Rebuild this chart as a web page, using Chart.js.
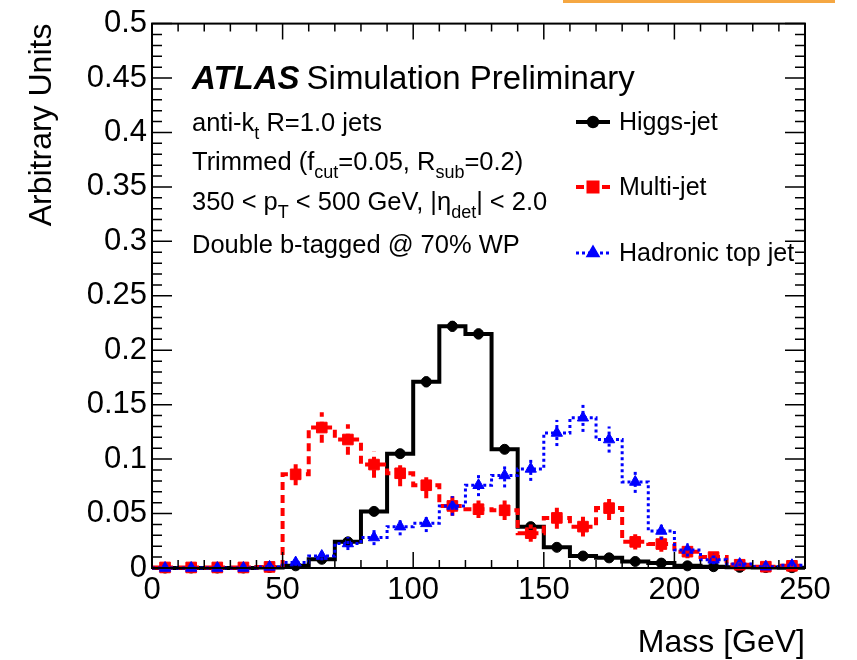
<!DOCTYPE html>
<html>
<head>
<meta charset="utf-8">
<script src="https://cdn.jsdelivr.net/npm/chart.js@4.4.1/dist/chart.umd.min.js"></script>
<style>
  html, body { margin: 0; padding: 0; background: #fff; }
  #wrap { width: 857px; height: 660px; position: relative; }
</style>
</head>
<body>
<div id="wrap"><canvas id="massChart" width="857" height="660"></canvas></div>
<script>
// bin centres (10 GeV bins)
const massBins = [5, 15, 25, 35, 45, 55, 65, 75, 85, 95, 105, 115, 125, 135, 145, 155, 165, 175, 185, 195, 205, 215, 225, 235, 245];
const binWidth = 10;

const higgsJet = [0, 0, 0, 0, 0.0005, 0.002, 0.008, 0.024, 0.052, 0.105, 0.171, 0.222, 0.215, 0.109, 0.038, 0.019, 0.011, 0.0093, 0.006, 0.0045, 0.002, 0.0012, 0.0006, 0.0004, 0.0003];
const higgsErr = [0, 0, 0, 0, 0, 0.001, 0.002, 0.003, 0.003, 0.004, 0.005, 0.005, 0.005, 0.004, 0.003, 0.002, 0.002, 0.002, 0.001, 0.001, 0.001, 0, 0, 0, 0];

const multiJet = [0.0005, 0.0005, 0.0005, 0.0005, 0.001, 0.086, 0.129, 0.118, 0.095, 0.087, 0.076, 0.057, 0.054, 0.053, 0.032, 0.046, 0.038, 0.055, 0.024, 0.022, 0.015, 0.010, 0.003, 0.0012, 0.002];
const multiErr = [0, 0, 0, 0, 0.001, 0.010, 0.014, 0.014, 0.012, 0.012, 0.012, 0.009, 0.008, 0.009, 0.008, 0.010, 0.009, 0.011, 0.007, 0.007, 0.006, 0.004, 0.002, 0.001, 0.001];

const topJet = [0, 0, 0, 0, 0.001, 0.005, 0.011, 0.0225, 0.028, 0.038, 0.041, 0.057, 0.076, 0.085, 0.091, 0.124, 0.138, 0.118, 0.079, 0.034, 0.0165, 0.0075, 0.0036, 0.0012, 0.0025];
const topErr = [0, 0, 0, 0, 0.001, 0.003, 0.004, 0.006, 0.007, 0.008, 0.008, 0.009, 0.010, 0.011, 0.011, 0.012, 0.013, 0.012, 0.010, 0.008, 0.006, 0.004, 0.002, 0.001, 0.001];

const xTicks = [0, 50, 100, 150, 200, 250];
const yTicks = [0, 0.05, 0.1, 0.15, 0.2, 0.25, 0.3, 0.35, 0.4, 0.45, 0.5];

const FONT = '"Liberation Sans", Arial, Helvetica, sans-serif';

// series styling
const series = [
    { label: 'Higgs-jet', values: higgsJet, errors: higgsErr, color: '#000000', width: 4, dash: [], point: 'circle', radius: 5, order: 3 },
    { label: 'Multi-jet', values: multiJet, errors: multiErr, color: '#ff0000', width: 4, dash: [8, 5], point: 'rect', radius: 7.5, order: 2 },
    { label: 'Hadronic top jet', values: topJet, errors: topErr, color: '#0000ff', width: 3, dash: [3, 3], point: 'triangle', radius: 6.5, order: 1 }
];

// build step outline (left edges + closing right edge) and marker points
function stepPoints(values) {
    const pts = massBins.map((c, i) => ({ x: c - binWidth / 2, y: values[i] }));
    pts.push({ x: massBins[massBins.length - 1] + binWidth / 2, y: values[values.length - 1] });
    return pts;
}

const datasets = [];
series.forEach(s => {
    datasets.push({
        label: s.label + ' hist',
        data: stepPoints(s.values),
        showLine: true,
        borderColor: s.color,
        borderWidth: s.width,
        borderDash: s.dash,
        stepped: 'before',
        pointRadius: 0,
        fill: false,
        order: s.order,
        clip: 4
    });
    datasets.push({
        label: s.label,
        data: massBins.map((c, i) => ({ x: c, y: s.values[i] })),
        showLine: false,
        pointStyle: s.point,
        pointRadius: s.radius,
        backgroundColor: s.color,
        borderColor: s.color,
        borderWidth: 1,
        order: s.order,
        clip: false,
        errors: s.errors,
        errDash: s.dash,
        errWidth: s.width
    });
});

// text with subscripts: parts = [[text, isSub], ...]
function drawRich(ctx, x, y, parts, size) {
    parts.forEach(([txt, sub]) => {
        const fs = sub ? Math.round(size * 0.7) : size;
        ctx.font = fs + 'px ' + FONT;
        ctx.fillText(txt, x, sub ? y + size * 0.33 : y);
        x += ctx.measureText(txt).width;
    });
    return x;
}

const atlasPlugin = {
    id: 'atlasDecor',
    afterDatasetsDraw(chart) {
        const ctx = chart.ctx;
        const xs = chart.scales.x, ys = chart.scales.y;
        // vertical error bars
        chart.data.datasets.forEach(ds => {
            if (!ds.errors) return;
            ctx.save();
            ctx.strokeStyle = ds.borderColor;
            ctx.lineWidth = ds.errWidth;
            ctx.setLineDash(ds.errDash);
            ds.data.forEach((p, i) => {
                const e = ds.errors[i];
                if (!e) return;
                const px = xs.getPixelForValue(p.x);
                ctx.beginPath();
                ctx.moveTo(px, ys.getPixelForValue(p.y - e));
                ctx.lineTo(px, ys.getPixelForValue(p.y + e));
                ctx.stroke();
            });
            ctx.restore();
        });
    },
    afterDraw(chart) {
        const ctx = chart.ctx;
        const a = chart.chartArea;
        const xs = chart.scales.x, ys = chart.scales.y;
        ctx.save();

        // top orange strip from the source page
        ctx.fillStyle = '#f5a742';
        ctx.fillRect(563, 0, 272, 3);

        // frame
        ctx.strokeStyle = '#000';
        ctx.lineWidth = 2;
        ctx.setLineDash([]);
        ctx.strokeRect(a.left, a.top, a.right - a.left, a.bottom - a.top);

        // inside ticks on all four sides
        ctx.lineWidth = 1.5;
        ctx.beginPath();
        for (let v = 0; v <= 250; v += 10) {
            const px = xs.getPixelForValue(v);
            const len = xTicks.includes(v) ? 16 : 8;
            ctx.moveTo(px, a.bottom); ctx.lineTo(px, a.bottom - len);
            ctx.moveTo(px, a.top); ctx.lineTo(px, a.top + len);
        }
        for (let k = 0; k <= 50; k++) {
            const v = k / 100;
            const py = ys.getPixelForValue(v);
            const len = k % 5 === 0 ? 20 : 10;
            ctx.moveTo(a.left, py); ctx.lineTo(a.left + len, py);
            ctx.moveTo(a.right, py); ctx.lineTo(a.right - len, py);
        }
        ctx.stroke();

        // ATLAS label
        ctx.fillStyle = '#000';
        ctx.textBaseline = 'alphabetic';
        ctx.textAlign = 'left';
        ctx.font = 'italic bold 33px ' + FONT;
        ctx.fillText('ATLAS', 192, 89);
        const w = ctx.measureText('ATLAS').width;
        ctx.font = '33px ' + FONT;
        ctx.fillText('Simulation Preliminary', 192 + w + 7, 89);

        // selection text
        const ts = 25.5;
        drawRich(ctx, 192, 131, [['anti-k', false], ['t', true], [' R=1.0 jets', false]], ts);
        drawRich(ctx, 192, 170, [['Trimmed (f', false], ['cut', true], ['=0.05, R', false], ['sub', true], ['=0.2)', false]], ts);
        drawRich(ctx, 192, 210, [['350 < p', false], ['T', true], [' < 500 GeV, |\u03b7', false], ['det', true], ['| < 2.0', false]], ts);
        drawRich(ctx, 192, 253, [['Double b-tagged @ 70% WP', false]], ts);

        // legend
        const legendY = [122, 187, 253];
        series.forEach((s, i) => {
            const y = legendY[i];
            ctx.strokeStyle = s.color;
            ctx.fillStyle = s.color;
            ctx.lineWidth = s.width;
            ctx.setLineDash(s.dash);
            ctx.beginPath();
            ctx.moveTo(576, y); ctx.lineTo(610, y);
            ctx.stroke();
            ctx.setLineDash([]);
            Chart.helpers.drawPoint(ctx, { pointStyle: s.point, radius: s.radius * 0.85, borderWidth: 1 }, 593, y);
            ctx.fill();
            ctx.fillStyle = '#000';
            ctx.font = '25px ' + FONT;
            ctx.fillText(s.label, 619, y + 8);
        });
        ctx.restore();
    }
};

const ctx = document.getElementById('massChart').getContext('2d');
new Chart(ctx, {
    type: 'scatter',
    data: { datasets: datasets },
    options: {
        responsive: false,
        animation: false,
        devicePixelRatio: 1,
        layout: { padding: { top: 19, right: 52, left: 0, bottom: 0 } },
        plugins: { legend: { display: false }, tooltip: { enabled: false } },
        scales: {
            x: {
                type: 'linear',
                min: 0,
                max: 250,
                afterBuildTicks: s => { s.ticks = xTicks.map(v => ({ value: v })); },
                afterFit: s => { s.height = 92; },
                grid: { display: false, drawTicks: false },
                border: { display: false },
                ticks: { color: '#000', font: { family: FONT, size: 31 }, padding: 4, maxRotation: 0, callback: v => String(v) },
                title: { display: true, text: 'Mass [GeV]', align: 'end', color: '#000', font: { family: FONT, size: 32, lineHeight: 1 }, padding: { top: 0, bottom: 1 } }
            },
            y: {
                type: 'linear',
                min: 0,
                max: 0.5,
                afterBuildTicks: s => { s.ticks = yTicks.map(v => ({ value: v })); },
                afterFit: s => { s.width = 152; },
                grid: { display: false, drawTicks: false },
                border: { display: false },
                ticks: { color: '#000', font: { family: FONT, size: 31 }, padding: 5, callback: v => String(+v.toFixed(2)) },
                title: { display: true, text: 'Arbitrary Units', align: 'end', color: '#000', font: { family: FONT, size: 32, lineHeight: 1 }, padding: { top: 26, bottom: 0 } }
            }
        }
    },
    plugins: [atlasPlugin]
});
</script>
</body>
</html>
